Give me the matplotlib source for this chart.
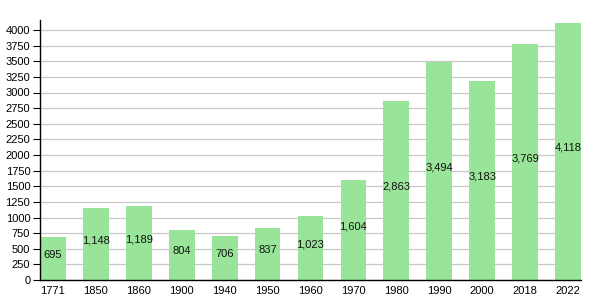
"""
Population by census year, bar chart with values inside the bars.
"""
import matplotlib.pyplot as plt

years = ["1771", "1850", "1860", "1900", "1940", "1950", "1960",
         "1970", "1980", "1990", "2000", "2018", "2022"]
population = [695, 1148, 1189, 804, 706, 837, 1023,
              1604, 2863, 3494, 3183, 3769, 4118]
y_ticks = list(range(0, 4001, 250))


def main():
    plt.rcParams["font.family"] = ["Liberation Sans", "DejaVu Sans"]
    fig = plt.figure(figsize=(6.15, 3.0), dpi=100)
    ax = fig.add_axes([40 / 615, 20 / 300, 541 / 615, 260 / 300])

    x = range(len(years))
    ax.bar(x, population, width=0.6, color="#98e498", zorder=2)
    for xi, v in zip(x, population):
        ax.text(xi, v / 2 + 60, f"{v:,}", ha="center", va="center",
                fontsize=8, color="#111111", zorder=3)

    ax.set_xlim(-0.3, len(years) - 0.7)
    ax.set_ylim(0, 4160)
    ax.set_xticks(list(x))
    ax.set_xticklabels(years)
    ax.set_yticks(y_ticks)
    ax.set_yticklabels([str(t) for t in y_ticks])
    ax.tick_params(axis="x", length=0, labelsize=8, pad=4)
    ax.tick_params(axis="y", length=5, width=0.8, labelsize=8, pad=2)
    ax.yaxis.grid(True, color="#c8c8c8", linewidth=0.9, zorder=1)
    ax.set_axisbelow(True)
    for side in ("top", "right"):
        ax.spines[side].set_visible(False)
    ax.spines["left"].set_linewidth(1.0)
    ax.spines["bottom"].set_linewidth(1.0)

    fig.savefig("out.png")


if __name__ == "__main__":
    main()
